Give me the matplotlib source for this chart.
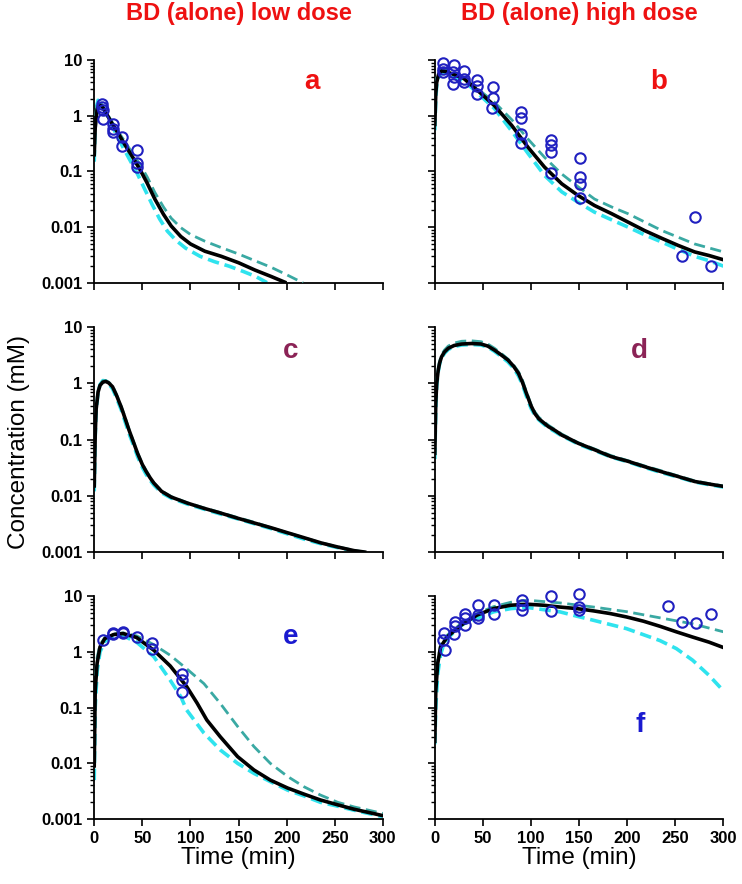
import numpy as np
import matplotlib
matplotlib.use("Agg")
from matplotlib import pyplot as plt
from matplotlib.ticker import LogLocator, NullFormatter, FixedLocator

plt.rcParams['font.family'] = ['Liberation Sans', 'DejaVu Sans']

# ---- panel a : BD low dose ----
t_fit_a = [0, 1, 3, 5, 8, 12, 18, 25, 32, 40, 48, 55, 63, 72, 80, 90, 100, 115, 132, 150, 167, 184, 198]
fit_a = [0.2, 0.6, 1.3, 1.55, 1.5, 1.15, 0.75, 0.48, 0.3, 0.18, 0.105, 0.062, 0.032, 0.017, 0.0105,
         0.0068, 0.005, 0.0037, 0.003, 0.0023, 0.0017, 0.0013, 0.00103]
t_hi_a = [0, 1, 3, 5, 8, 12, 18, 25, 32, 40, 48, 55, 63, 72, 80, 90, 100, 115, 132, 150, 167, 184, 200, 217]
hi_a = [0.25, 0.9, 1.7, 1.8, 1.6, 1.2, 0.8, 0.52, 0.34, 0.21, 0.13, 0.08, 0.042, 0.023, 0.0145,
        0.0098, 0.0074, 0.0056, 0.0043, 0.0033, 0.0025, 0.0019, 0.0014, 0.001]
t_lo_a = [0, 1, 2, 4, 7, 10, 15, 22, 30, 38, 45, 52, 60, 68, 76, 85, 95, 110, 125, 140, 155, 168, 180]
lo_a = [0.15, 0.7, 1.4, 1.9, 1.6, 1.3, 0.9, 0.5, 0.27, 0.15, 0.09, 0.05, 0.026, 0.014, 0.0085,
        0.0058, 0.0042, 0.003, 0.0024, 0.002, 0.0016, 0.0013, 0.001]
t_obs_a = [8, 8, 9, 9, 19, 19, 20, 29, 29, 44, 44, 44]
c_obs_a = [1.6, 1.45, 1.25, 0.86, 0.70, 0.58, 0.52, 0.42, 0.29, 0.24, 0.14, 0.12]

# ---- panel b : BD high dose ----
t_fit_b = [0, 1, 2, 4, 7, 12, 20, 30, 45, 62, 80, 97, 114, 132, 149, 166, 184, 201, 218, 236, 253, 270, 285, 300]
fit_b = [0.7, 2.5, 4.0, 5.6, 6.4, 6.2, 5.5, 4.7, 2.8, 1.52, 0.67, 0.27, 0.12, 0.06, 0.037, 0.0245,
         0.0174, 0.0123, 0.0087, 0.0063, 0.0047, 0.0036, 0.0031, 0.0026]
t_hi_b = [0, 1, 2, 4, 7, 12, 20, 30, 45, 62, 80, 97, 114, 132, 149, 166, 184, 201, 236, 270, 300]
hi_b = [0.8, 3.0, 4.8, 6.5, 7.0, 6.6, 5.7, 4.8, 3.0, 1.75, 0.85, 0.38, 0.18, 0.09, 0.053, 0.032,
        0.023, 0.0174, 0.0087, 0.005, 0.0036]
t_lo_b = [0, 1, 2, 4, 7, 12, 20, 30, 45, 62, 80, 97, 114, 132, 149, 166, 184, 201, 218, 236, 253, 270, 285, 300]
lo_b = [0.55, 2.0, 3.5, 5.0, 5.9, 5.8, 5.1, 4.3, 2.5, 1.35, 0.53, 0.21, 0.085, 0.043, 0.028, 0.0186,
        0.0135, 0.01, 0.0073, 0.0054, 0.004, 0.003, 0.0025, 0.002]
t_obs_b = [9, 9, 8, 20, 19, 20, 19, 30, 30, 30, 44, 44, 44, 60, 60, 59, 90, 90, 90, 90,
           121, 121, 121, 121, 151, 151, 151, 151, 257, 270, 287]
c_obs_b = [8.7, 6.9, 6.0, 8.1, 6.0, 4.9, 3.8, 6.3, 4.6, 4.0, 4.4, 3.5, 2.45, 3.3, 2.1, 1.4,
           1.16, 0.9, 0.47, 0.32, 0.37, 0.30, 0.22, 0.093, 0.176, 0.081, 0.06, 0.034,
           0.003, 0.0152, 0.002]

# ---- panel c ----
t_c = [0, 1, 2, 4, 6, 9, 12, 15, 19, 23, 28, 32, 36, 41, 45, 50, 54, 58, 62, 70, 80, 97, 114,
       132, 149, 166, 184, 201, 218, 236, 253, 270, 281]
fit_c = [0.015, 0.12, 0.35, 0.7, 0.92, 1.05, 1.08, 1.02, 0.87, 0.62, 0.38, 0.24, 0.15, 0.088, 0.057,
         0.036, 0.027, 0.021, 0.0168, 0.012, 0.0095, 0.0074, 0.006, 0.0049, 0.004, 0.0033, 0.0027,
         0.0022, 0.0018, 0.00145, 0.00123, 0.00106, 0.001]
hi_c = [0.018, 0.14, 0.38, 0.75, 0.97, 1.1, 1.12, 1.05, 0.9, 0.64, 0.39, 0.25, 0.155, 0.09, 0.058,
        0.037, 0.028, 0.0215, 0.017, 0.0122, 0.0097, 0.0075, 0.0061, 0.005, 0.0041, 0.0034, 0.0027,
        0.0022, 0.0018, 0.00146, 0.00124, 0.00107, 0.001]
lo_c = [0.012, 0.11, 0.33, 0.68, 0.95, 1.12, 1.1, 0.98, 0.8, 0.56, 0.34, 0.21, 0.13, 0.078, 0.05,
        0.032, 0.024, 0.019, 0.0155, 0.0113, 0.0091, 0.0071, 0.0058, 0.0047, 0.0039, 0.0032, 0.0026,
        0.0021, 0.0017, 0.0014, 0.0012, 0.00103, 0.00097]

# ---- panel d ----
t_d = [0, 1, 2, 3.5, 5, 7, 10, 14, 20, 28, 38, 48, 55, 62, 69, 76, 82, 87, 91, 95, 100, 104, 108,
       113, 118, 125, 132, 140, 149, 166, 183, 201, 218, 235, 253, 270, 285, 300]
fit_d = [0.057, 0.45, 1.0, 1.7, 2.3, 2.96, 3.6, 4.2, 4.7, 5.0, 5.1, 5.0, 4.6, 3.9, 3.2, 2.6, 2.0,
         1.5, 1.05, 0.68, 0.40, 0.29, 0.235, 0.2, 0.17, 0.145, 0.12, 0.103, 0.086, 0.066, 0.05,
         0.041, 0.033, 0.027, 0.022, 0.018, 0.0162, 0.0147]
hi_d = [0.06, 0.5, 1.1, 1.85, 2.5, 3.2, 3.9, 4.6, 5.2, 5.6, 5.7, 5.5, 5.0, 4.2, 3.4, 2.7, 2.1, 1.6,
        1.15, 0.72, 0.42, 0.31, 0.25, 0.21, 0.18, 0.15, 0.125, 0.106, 0.088, 0.068, 0.052, 0.042,
        0.034, 0.028, 0.0225, 0.0185, 0.0165, 0.015]
lo_d = [0.045, 0.35, 0.9, 1.6, 2.2, 2.8, 3.4, 4.0, 4.5, 4.8, 4.9, 4.8, 4.4, 3.7, 3.0, 2.4, 1.85,
        1.35, 0.95, 0.6, 0.36, 0.27, 0.225, 0.19, 0.162, 0.138, 0.116, 0.1, 0.083, 0.064, 0.049,
        0.04, 0.032, 0.026, 0.0215, 0.0176, 0.0158, 0.0143]

# ---- panel e ----
t_fit_e = [0, 1, 3, 6, 11, 20, 30, 44, 62, 79, 96, 107, 117, 131, 149, 166, 183, 201, 218, 235, 253, 270, 300]
fit_e = [0.009, 0.2, 0.63, 1.23, 1.74, 2.05, 2.14, 1.82, 1.07, 0.56, 0.24, 0.12, 0.06, 0.03, 0.0132,
         0.0076, 0.005, 0.0036, 0.0028, 0.0022, 0.0018, 0.0015, 0.00115]
t_hi_e = [0, 1, 3, 6, 11, 20, 30, 44, 62, 79, 96, 114, 131, 149, 166, 183, 201, 218, 235, 253, 270, 300]
hi_e = [0.012, 0.3, 0.8, 1.35, 1.8, 2.1, 2.2, 1.95, 1.35, 0.87, 0.5, 0.27, 0.119, 0.046, 0.02, 0.01,
        0.0058, 0.0038, 0.0027, 0.002, 0.00165, 0.00126]
t_lo_e = [0, 1, 3, 6, 11, 20, 30, 44, 62, 79, 90, 96, 114, 131, 149, 166, 183, 201, 218, 235, 253, 270, 300]
lo_e = [0.005, 0.1, 0.45, 1.0, 1.55, 1.9, 1.95, 1.5, 0.82, 0.31, 0.157, 0.091, 0.035, 0.0174, 0.01,
        0.0066, 0.0047, 0.0033, 0.0026, 0.002, 0.0017, 0.00144, 0.0011]
t_obs_e = [9, 19, 20, 30, 30, 44, 60, 60, 91, 91, 91]
c_obs_e = [1.63, 2.2, 2.1, 2.3, 2.2, 1.82, 1.46, 1.15, 0.4, 0.32, 0.19]

# ---- panel f ----
t_fit_f = [0, 1, 3, 6, 13, 27, 44, 61, 79, 96, 113, 130, 148, 165, 182, 199, 217, 234, 251, 268, 285, 300]
fit_f = [0.025, 0.2, 0.62, 1.23, 1.87, 3.0, 4.6, 6.0, 6.9, 7.2, 6.9, 6.4, 6.0, 5.46, 4.9, 4.26, 3.56,
         2.89, 2.3, 1.85, 1.5, 1.2]
t_hi_f = [0, 1, 3, 6, 13, 27, 44, 61, 79, 96, 130, 165, 199, 234, 268, 300]
hi_f = [0.03, 0.25, 0.7, 1.35, 2.0, 3.2, 4.9, 6.5, 7.8, 8.5, 7.6, 6.4, 5.3, 4.1, 3.2, 2.3]
t_lo_f = [0, 1, 3, 6, 10, 20, 30, 44, 61, 79, 96, 130, 148, 165, 199, 234, 251, 268, 285, 300]
lo_f = [0.022, 0.1, 0.4, 0.9, 1.5, 2.3, 3.2, 4.0, 5.25, 6.0, 6.3, 5.25, 4.37, 3.7, 2.63, 1.6, 1.15,
        0.71, 0.38, 0.2]
t_obs_f = [10, 9, 11, 21, 21, 20, 31, 31, 31, 45, 45, 45, 61, 61, 91, 91, 91, 121, 121, 150, 150, 150,
           242, 257, 271, 287]
c_obs_f = [2.2, 1.67, 1.07, 3.47, 2.9, 2.14, 4.75, 4.0, 3.0, 6.9, 4.6, 4.1, 6.9, 4.9, 8.5, 6.9, 5.6,
           10.0, 5.5, 10.9, 6.4, 5.6, 6.7, 3.47, 3.37, 4.9]

titles = ["BD (alone) low dose", "BD (alone) high dose"]
letters = ["a", "b", "c", "d", "e", "f"]
letter_colors = ["#ee1111", "#ee1111", "#8b2356", "#8b2356", "#1a1ad0", "#1a1ad0"]
letter_pos = [(0.755, 0.90), (0.775, 0.90), (0.68, 0.895), (0.71, 0.895), (0.68, 0.815), (0.71, 0.42)]

panels = [
    (t_fit_a, fit_a, t_hi_a, hi_a, t_lo_a, lo_a, t_obs_a, c_obs_a),
    (t_fit_b, fit_b, t_hi_b, hi_b, t_lo_b, lo_b, t_obs_b, c_obs_b),
    (t_c, fit_c, t_c, hi_c, t_c, lo_c, None, None),
    (t_d, fit_d, t_d, hi_d, t_d, lo_d, None, None),
    (t_fit_e, fit_e, t_hi_e, hi_e, t_lo_e, lo_e, t_obs_e, c_obs_e),
    (t_fit_f, fit_f, t_hi_f, hi_f, t_lo_f, lo_f, t_obs_f, c_obs_f),
]

fig = plt.figure(figsize=(7.42, 8.84), dpi=100)
lefts = [0.127, 0.586]
bottoms = [0.680, 0.3755, 0.0735]
heights = [0.252, 0.2545, 0.252]
width = 0.389

for i, (tf, f, th, h, tl, l, to, co) in enumerate(panels):
    row, col = divmod(i, 2)
    ax = fig.add_axes([lefts[col], bottoms[row], width, heights[row]])
    ax.plot(tl, l, color="#2fe3ee", lw=2.6, ls=(0, (3.2, 1.6)), zorder=2)
    ax.plot(th, h, color="#3aa9a3", lw=2.0, ls=(0, (4, 2)), zorder=3)
    ax.plot(tf, f, color="black", lw=2.6, zorder=4)
    if to is not None:
        ax.plot(to, co, ls="none", marker="o", ms=7.5, mfc="none", mec="#2020c0", mew=1.5, zorder=5,
                clip_on=False)
    ax.set_yscale("log")
    ax.set_ylim(0.001, 10)
    ax.set_xlim(0, 300)
    for s in ["top", "right"]:
        ax.spines[s].set_visible(False)
    for s in ["left", "bottom"]:
        ax.spines[s].set_linewidth(1.3)
    ax.xaxis.set_major_locator(FixedLocator([0, 50, 100, 150, 200, 250, 300]))
    ax.yaxis.set_major_locator(FixedLocator([0.001, 0.01, 0.1, 1, 10]))
    ax.yaxis.set_minor_locator(LogLocator(base=10, subs=np.arange(2, 10)))
    ax.yaxis.set_minor_formatter(NullFormatter())
    ax.tick_params(axis="both", which="major", direction="out", length=5, width=1.2,
                   labelsize=12)
    ax.tick_params(axis="y", which="minor", direction="out", length=3, width=1.0)
    if col == 0:
        ax.set_yticklabels(["0.001", "0.01", "0.1", "1", "10"], fontweight="bold")
    else:
        ax.set_yticklabels([])
    if row == 2:
        ax.set_xticklabels(["0", "50", "100", "150", "200", "250", "300"], fontweight="bold")
        ax.set_xlabel("Time (min)", fontsize=17.5, labelpad=1)
    else:
        ax.set_xticklabels([])
    if row == 0:
        ax.set_title(titles[col], color="#ee1111", fontsize=17, fontweight="bold", pad=29)
    ax.text(letter_pos[i][0], letter_pos[i][1], letters[i], transform=ax.transAxes,
            color=letter_colors[i], fontsize=20, fontweight="bold", ha="center", va="center")

fig.text(0.026, 0.5, "Concentration (mM)", rotation=90, fontsize=17.5, ha="center", va="center")

fig.savefig("out.png", dpi=100)
